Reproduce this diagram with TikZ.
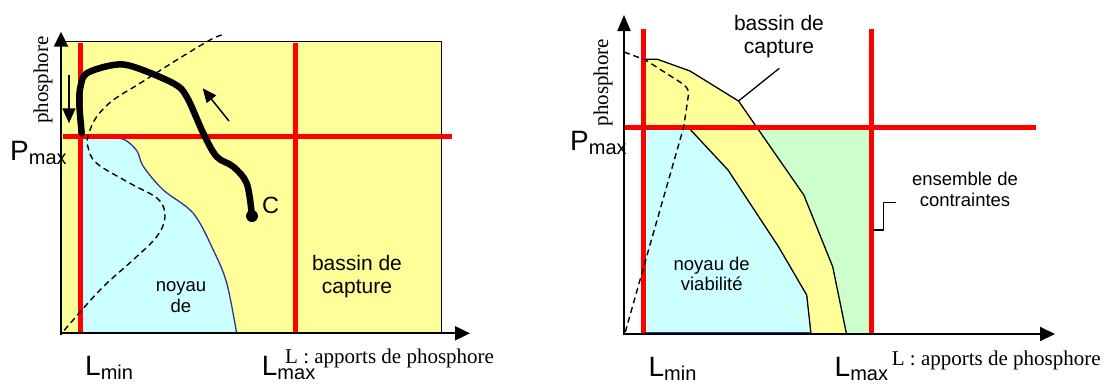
\documentclass[tikz,border=0pt]{standalone}
\usepackage{fontspec}
\setmainfont{Liberation Serif}
\newfontfamily\arialf{Liberation Sans}
\usetikzlibrary{arrows.meta}
\definecolor{ylw}{HTML}{FFFF99}
\definecolor{cyn}{HTML}{CCFFFF}
\definecolor{grn}{HTML}{CCFFCC}
\definecolor{bl}{HTML}{333399}
\newcommand{\symb}[2]{{\fontsize{28}{28}\selectfont #1}\raisebox{-4pt}{\fontsize{20}{20}\selectfont #2}}
\begin{document}
\begin{tikzpicture}[x=1pt,y=-1pt,
  redline/.style={draw=red,line width=5pt},
  axisline/.style={draw=black,line width=2pt,-{Triangle[length=15pt,width=14pt]}},
  sanslbl/.style={font=\arialf\fontsize{18.5}{21}\selectfont,inner sep=0pt,anchor=base},
  biglbl/.style={font=\arialf\fontsize{21}{24}\selectfont,inner sep=0pt,anchor=base},
  symlbl/.style={font=\arialf,inner sep=0pt,anchor=base west},
  serlbl/.style={font=\fontsize{21}{24}\selectfont,inner sep=0pt},
  dashcurve/.style={draw=black,dash pattern=on 6pt off 4pt,line width=1.4pt},
  thinline/.style={draw=black,line width=1.3pt},
]
\useasboundingbox (0,0) rectangle (1106,383);

% ================= LEFT PANEL =================
\fill[ylw] (61,41.7) rectangle (441.7,333.3);
\filldraw[fill=cyn,draw=bl,line width=1.3pt]
  plot[smooth,tension=0.55] coordinates {(79.5,135.5) (110,137) (125,140) (137,151) (143.5,166.7) (163.3,190) (193.3,213.3) (213.3,250) (226.7,283) (236.7,333.3)}
  -- (79.5,333.3) -- cycle;
\draw[line width=1.5pt] (61,41.7) rectangle (441.7,333.3);
\draw[redline] (80,43) -- (80,333.3);
\draw[redline] (295,43) -- (295,333.3);
\draw[redline] (62.7,136.7) -- (452,136.7);
\draw[dashcurve] plot[smooth,tension=0.6] coordinates {(221.7,35) (210,40) (176.7,60) (140,83.3) (113.3,100) (96.7,116.7) (88.3,135) (88,147) (96.7,163.3) (130,183.3) (158,199) (165,216.7) (156.7,236.7) (133,260) (100,290) (61.7,333.3)};
\draw[line width=6.5pt,line cap=round,line join=round] plot[smooth,tension=0.55] coordinates {(81.7,133.3) (79.3,103.3) (80.5,86.7) (86.7,73.3) (113.3,65) (133.3,66.7) (173.3,83.3) (186.7,96.7) (203.3,133.3) (216.7,156.7) (233.3,166.7) (246.7,183.3) (251.7,213.3)};
\node[circle,fill=black,inner sep=0pt,minimum size=12pt] (cdot) at (252,216) {};
\node[font=\arialf\fontsize{23.5}{24}\selectfont,inner sep=0pt,anchor=base west] (clbl) at (262,213.3) {C};
\coordinate (sa1) at (229,121);
\coordinate (sa2) at (202.7,88.3);
\draw[line width=1.5pt,-{Triangle[length=14pt,width=12pt]}] (sa1) -- (sa2);
\coordinate (da1) at (69,75);
\coordinate (da2) at (69,123.3);
\draw[line width=1.5pt,-{Triangle[length=15pt,width=13pt]}] (da1) -- (da2);
\coordinate (lo) at (61,335);
\coordinate (lytip) at (61,31.7);
\coordinate (lxtip) at (470,333.3);
\draw[axisline] (lo) -- (lytip);
\draw[axisline] (61,333.3) -- (lxtip);
\node[sanslbl] (lnoy1) at (181,291) {noyau};
\node[sanslbl] (lnoy2) at (181,312) {de};
\node[biglbl] (lbas1) at (357,270) {bassin de};
\node[biglbl] (lbas2) at (357,293.3) {capture};
\node[serlbl,rotate=90] (lph) at (43,80) {phosphore};
\node[serlbl,anchor=base west] (lLax) at (285,363) {L : apports de phosphore};
\node[symlbl] (lPmax) at (10,160) {\symb{P}{max}};
\node[symlbl] (lLmin) at (85,375) {\symb{L}{min}};
\node[symlbl] (lLmax) at (261.7,375) {\symb{L}{max}};

% ================= RIGHT PANEL =================
\fill[ylw] (643,59.3) -- (657.5,59.3) -- (690,71) -- (738.5,101) -- (803.8,195) -- (832.7,266.7) -- (846.5,334) -- (643,334) -- cycle;
\fill[grn] (757.5,127.3) -- (803.8,195) -- (832.7,266.7) -- (846.5,334) -- (871,334) -- (871,127.3) -- cycle;
\fill[cyn] (643,127.3) -- (688.2,127.3) -- (728,170) -- (778.5,246.7) -- (806.7,295) -- (811,334) -- (643,334) -- cycle;
\draw[draw=yellow!35!white,line width=0.5pt] (725,230) -- (810,334);
\draw[thinline] (688.2,127.3) -- (728,170) -- (778.5,246.7) -- (806.7,295) -- (811,334);
\draw[thinline] (643,59.3) -- (657.5,59.3) -- (690,71) -- (738.5,101) -- (803.8,195) -- (832.7,266.7) -- (846.5,334);
\draw[draw=bl,line width=1.5pt] (643,333) -- (811,333);
\draw[redline] (643,29.3) -- (643,334);
\draw[redline] (871,29.3) -- (871,334);
\draw[redline] (625,127.3) -- (1035.5,127.3);
\draw[dashcurve,rounded corners=3pt] (624,52) -- (645.5,60) -- (684.6,85) -- (689,91) -- (683.8,126.7) -- (644.8,263) -- (625,333);
\coordinate (ro) at (624,335);
\coordinate (rytip) at (624,15);
\coordinate (rxtip) at (1055,334);
\draw[axisline,-{Triangle[length=16pt,width=13pt]}] (ro) -- (rytip);
\draw[axisline] (623,334) -- (rxtip);
\node[biglbl] (rbas1) at (779,30) {bassin de};
\node[biglbl] (rbas2) at (779,53.3) {capture};
\coordinate (rlead1) at (779.3,68.3);
\coordinate (rlead2) at (738.5,101);
\draw[line width=1.3pt] (rlead1) -- (rlead2);
\node[sanslbl] (rens1) at (965,185) {ensemble de};
\node[sanslbl] (rens2) at (965,206.7) {contraintes};
\coordinate (rbr1) at (896,202.3);
\coordinate (rbr2) at (873,230);
\draw[line width=1.3pt] (rbr1) -- (883.3,202.3) -- (883.3,230) -- (rbr2);
\node[sanslbl] (rnoy1) at (711.7,270) {noyau de};
\node[sanslbl] (rnoy2) at (711.7,290.5) {viabilité};
\node[serlbl,rotate=90] (rph) at (603,82.5) {phosphore};
\node[serlbl,anchor=base west] (rLax) at (891.7,365) {L : apports de phosphore};
\node[symlbl] (rPmax) at (570,150) {\symb{P}{max}};
\node[symlbl] (rLmin) at (648.4,376) {\symb{L}{min}};
\node[symlbl] (rLmax) at (834.5,376) {\symb{L}{max}};
\end{tikzpicture}
\end{document}
